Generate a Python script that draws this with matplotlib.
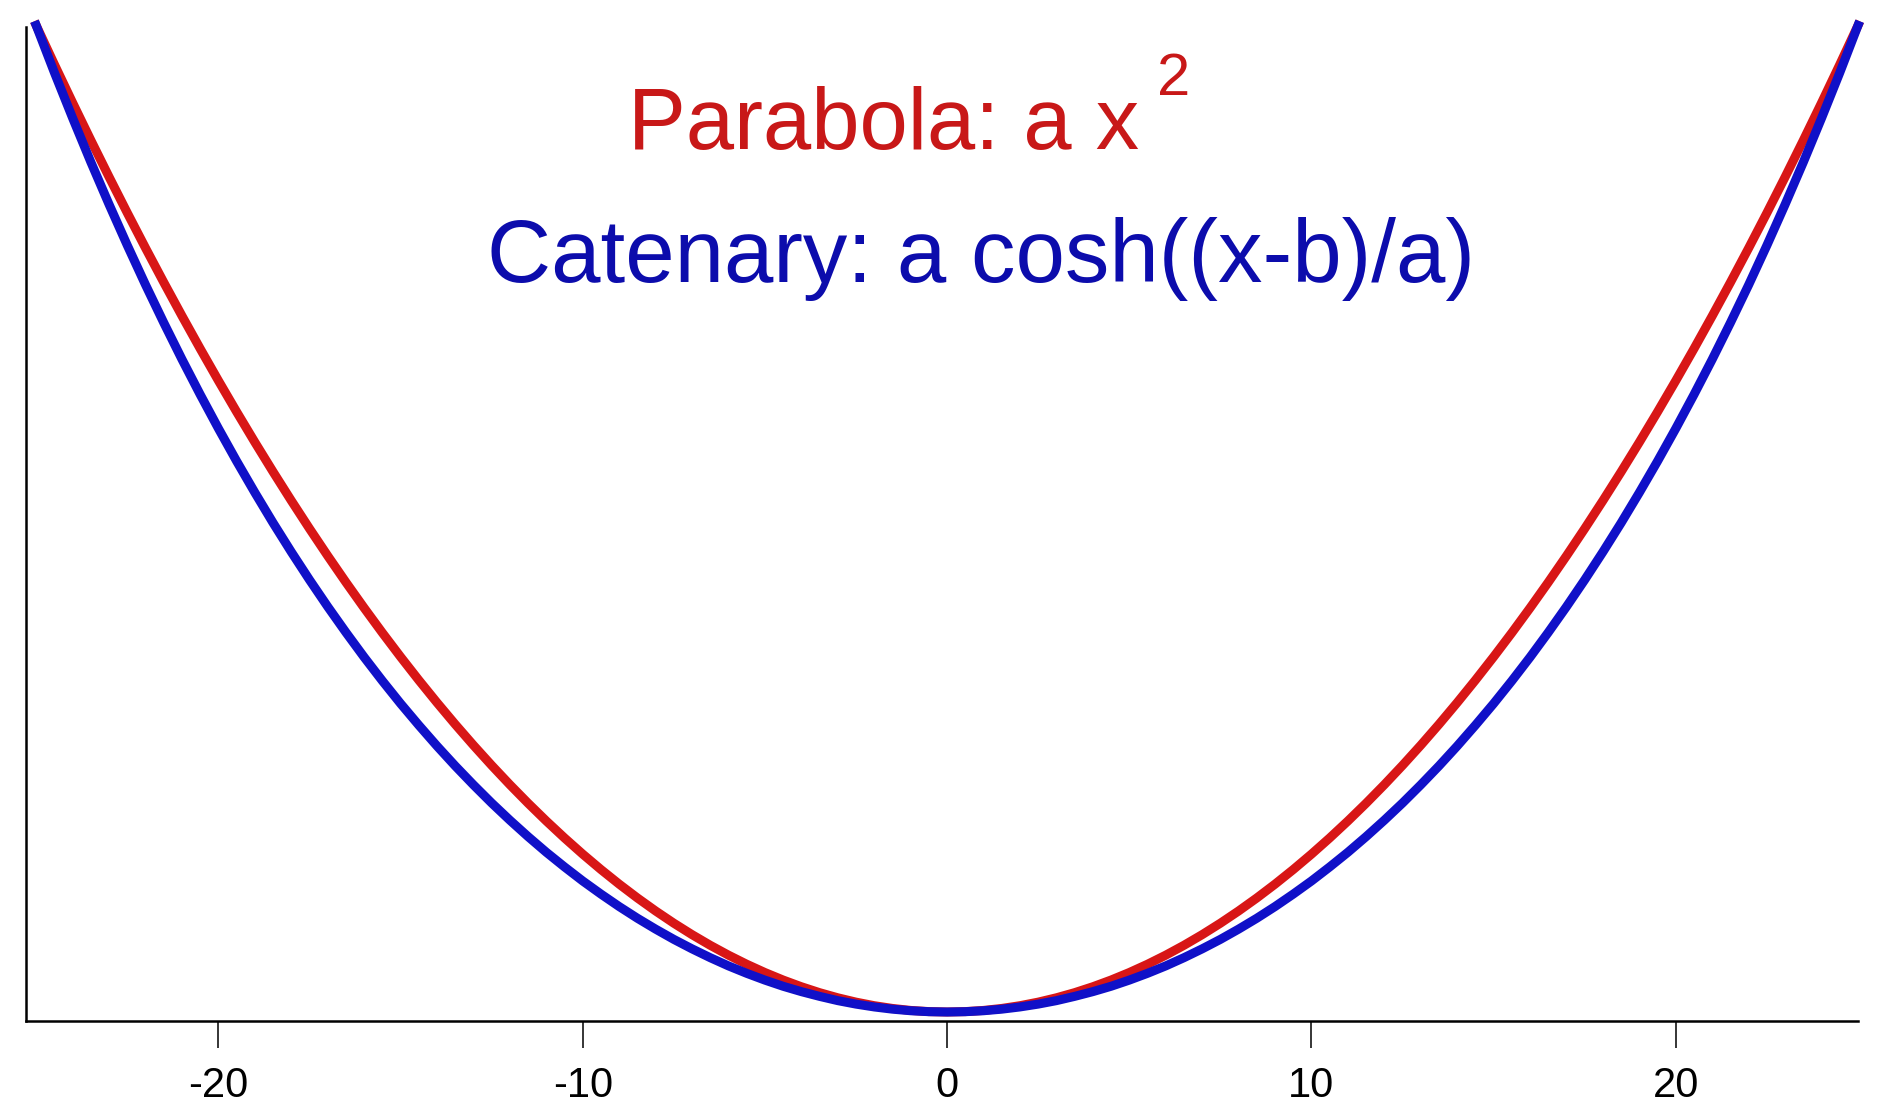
import matplotlib
matplotlib.use("Agg")
import matplotlib.pyplot as plt

# sample points (x from -25 to 25, step 0.5)
x_vals = [i / 2 for i in range(-50, 51)]

parabola = [625, 600.25, 576, 552.25, 529, 506.25, 484, 462.25, 441, 420.25,
            400, 380.25, 361, 342.25, 324, 306.25, 289, 272.25, 256, 240.25,
            225, 210.25, 196, 182.25, 169, 156.25, 144, 132.25, 121, 110.25,
            100, 90.25, 81, 72.25, 64, 56.25, 49, 42.25, 36, 30.25,
            25, 20.25, 16, 12.25, 9, 6.25, 4, 2.25, 1, 0.25,
            0,
            0.25, 1, 2.25, 4, 6.25, 9, 12.25, 16, 20.25, 25,
            30.25, 36, 42.25, 49, 56.25, 64, 72.25, 81, 90.25, 100,
            110.25, 121, 132.25, 144, 156.25, 169, 182.25, 196, 210.25, 225,
            240.25, 256, 272.25, 289, 306.25, 324, 342.25, 361, 380.25, 400,
            420.25, 441, 462.25, 484, 506.25, 529, 552.25, 576, 600.25, 625]

catenary = [625.0, 595.1, 566.3, 538.4, 511.6, 485.7, 460.7, 436.7, 413.5, 391.2,
            369.7, 349.0, 329.1, 309.9, 291.5, 273.8, 256.8, 240.5, 224.8, 209.8,
            195.4, 181.7, 168.5, 155.9, 143.9, 132.4, 121.5, 111.1, 101.2, 91.9,
            83.0, 74.7, 66.8, 59.4, 52.5, 46.0, 40.0, 34.4, 29.2, 24.5,
            20.2, 16.3, 12.9, 9.9, 7.2, 5.0, 3.2, 1.8, 0.8, 0.2,
            0.0,
            0.2, 0.8, 1.8, 3.2, 5.0, 7.2, 9.9, 12.9, 16.3, 20.2,
            24.5, 29.2, 34.4, 40.0, 46.0, 52.5, 59.4, 66.8, 74.7, 83.0,
            91.9, 101.2, 111.1, 121.5, 132.4, 143.9, 155.9, 168.5, 181.7, 195.4,
            209.8, 224.8, 240.5, 256.8, 273.8, 291.5, 309.9, 329.1, 349.0, 369.7,
            391.2, 413.5, 436.7, 460.7, 485.7, 511.6, 538.4, 566.3, 595.1, 625.0]

tick_pos = [-20, -10, 0, 10, 20]
tick_labels = ["-20", "-10", "0", "10", "20"]

W, H = 1878, 1113
fig = plt.figure(figsize=(W / 100, H / 100), dpi=100)
ax = fig.add_axes([26 / W, 1 - 1021 / H, (1858 - 26) / W, (1021 - 27) / H])

ax.plot(x_vals, parabola, color="#d81616", lw=6.5, clip_on=False,
        solid_joinstyle="round")
ax.plot(x_vals, catenary, color="#1010c8", lw=6.5, clip_on=False,
        solid_joinstyle="round")

ax.set_xlim(-25.28, 25.0)
ax.set_ylim(-5.7, 624)

for s in ["top", "right"]:
    ax.spines[s].set_visible(False)
ax.spines["left"].set_linewidth(1.8)
ax.spines["bottom"].set_linewidth(1.8)

ax.set_yticks([])
ax.set_xticks(tick_pos)
ax.set_xticklabels(tick_labels, family="Liberation Sans", fontsize=30)
ax.tick_params(axis="x", direction="out", length=19.5, width=1.1, pad=13)

# labels
fig.text(628 / W, 1 - 149 / H, "Parabola: a x", color="#c81818",
         fontsize=62.5, family="Liberation Sans", va="baseline", ha="left")
fig.text(1157 / W, 1 - 95 / H, "2", color="#c81818",
         fontsize=43, family="Liberation Sans", va="baseline", ha="left")
fig.text(487 / W, 1 - 282 / H, "Catenary: a cosh((x-b)/a)", color="#0c0cac",
         fontsize=64, family="Liberation Sans", va="baseline", ha="left")

fig.savefig("out.png", dpi=100)
